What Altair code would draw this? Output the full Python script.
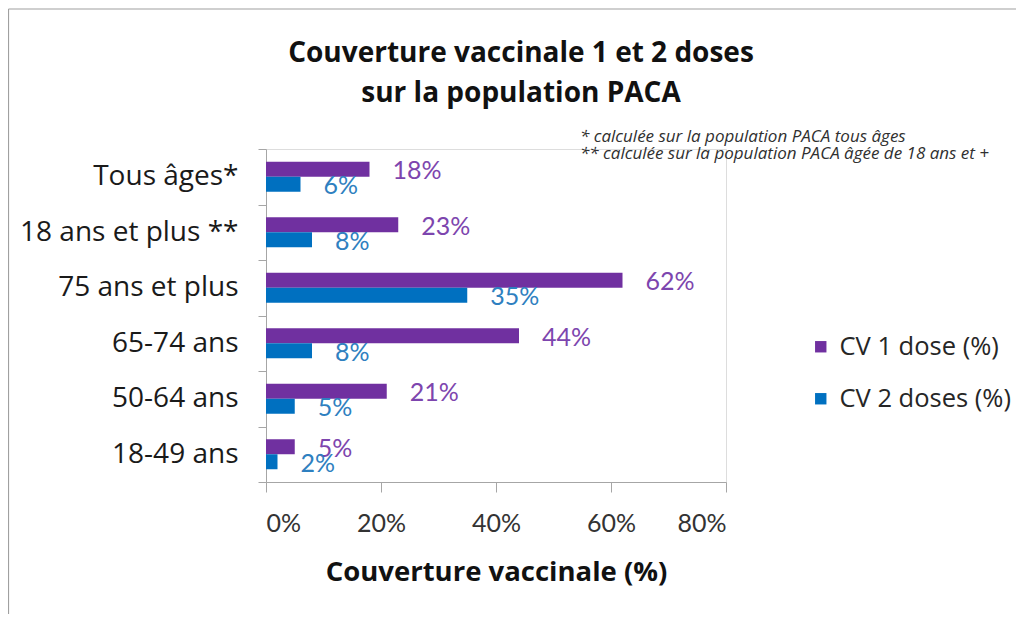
import altair as alt
import pandas as pd

categories = ["Tous âges*", "18 ans et plus **", "75 ans et plus\u00a0", "65-74 ans", "50-64 ans", "18-49 ans"]
cv1 = [0.18, 0.23, 0.62, 0.44, 0.21, 0.05]
cv2 = [0.06, 0.08, 0.35, 0.08, 0.05, 0.02]
series = ["CV 1 dose (%)", "CV 2 doses (%)"]
x_ticks = [0, 0.2, 0.4, 0.6, 0.8]
title_lines = ["Couverture vaccinale 1 et 2 doses", "sur la population PACA"]
note_lines = ["* calculée sur la population PACA tous âges",
              "** calculée sur la population PACA âgée de 18 ans et +"]
x_title = "Couverture vaccinale (%)"

bar_colors = ["#7030A0", "#0070C0"]
label_colors = ["#7D45AE", "#2E80C0"]
FONT = "Lato"
FONT2 = "Open Sans"

rows = []
for c, a, b in zip(categories, cv1, cv2):
    rows.append({"cat": c, "serie": series[0], "val": a})
    rows.append({"cat": c, "serie": series[1], "val": b})
df = pd.DataFrame(rows)

y_enc = alt.Y("cat:N", sort=categories,
              scale=alt.Scale(paddingInner=0, paddingOuter=0),
              axis=alt.Axis(title=None, tickBand="extent", tickSize=8, labelPadding=20,
                            labelFontSize=28, labelColor="#1A1A1A", labelFont=FONT2,
                            labelLimit=400,
                            domainColor="#A6A6A6", tickColor="#A6A6A6"))
x_enc = alt.X("val:Q", scale=alt.Scale(domain=[0, 0.8], nice=False),
              axis=alt.Axis(values=x_ticks, format=".0%", title=x_title,
                            tickSize=10, labelPadding=19, labelFontSize=25,
                            labelColor="#333333", labelFont=FONT,
                            titleFont=FONT2, titleFontSize=27.5, titleFontWeight="bold",
                            titleColor="#111111", titlePadding=22,
                            domainColor="#A6A6A6", tickColor="#A6A6A6", grid=False))
yoff = alt.YOffset("serie:N", sort=series,
                   scale=alt.Scale(paddingInner=0, paddingOuter=0.85))

base = alt.Chart(df)

bars = base.mark_bar().encode(
    x=x_enc, y=y_enc, yOffset=yoff,
    color=alt.Color("serie:N", sort=series,
                    scale=alt.Scale(domain=series, range=bar_colors),
                    legend=alt.Legend(title=None, orient="none", legendX=542, legendY=185,
                                      symbolType="square", symbolSize=130,
                                      symbolStrokeWidth=0, labelLimit=400,
                                      labelFontSize=25.5, labelFont=FONT2, labelColor="#262626",
                                      labelOffset=6, rowPadding=25)),
)

labels = base.mark_text(align="left", baseline="middle", dx=23, dy=2,
                        fontSize=25, font=FONT).encode(
    x="val:Q", y=alt.Y("cat:N", sort=categories), yOffset=yoff,
    text=alt.Text("val:Q", format=".0%"),
    fill=alt.Fill("serie:N", sort=series,
                  scale=alt.Scale(domain=series, range=label_colors), legend=None),
)

note = alt.Chart(pd.DataFrame({"k": [0]})).mark_text(
    text=note_lines, align="left", baseline="top", lineHeight=17,
    fontSize=17, fontStyle="italic", font=FONT2, color="#303030"
).encode(x=alt.value(314), y=alt.value(-20))

frame_v = alt.Chart(pd.DataFrame({"k": [0]})).mark_rule(color="#A0A0A0", strokeWidth=1.2).encode(
    x=alt.value(-257.5), y=alt.value(-140), y2=alt.value(465))
frame_h = alt.Chart(pd.DataFrame({"k": [0]})).mark_rule(color="#A0A0A0", strokeWidth=1.2).encode(
    x=alt.value(-257.5), x2=alt.value(760), y=alt.value(-140))

chart = alt.layer(frame_v, frame_h, bars, labels, note).resolve_scale(
    color="independent", fill="independent"
).properties(
    width=460, height=333,
    title=alt.TitleParams(text=title_lines, anchor="middle", dx=25, fontSize=28,
                          font=FONT2, fontWeight="bold", color="#111111",
                          lineHeight=40, offset=-100),
    autosize=alt.AutoSizeParams(type="none"),
    padding={"left": 258, "top": 141, "right": 290, "bottom": 132},
).configure_view(stroke=None).configure(background="white")

chart.save("out.html", embed_options={"renderer": "svg", "actions": False})
